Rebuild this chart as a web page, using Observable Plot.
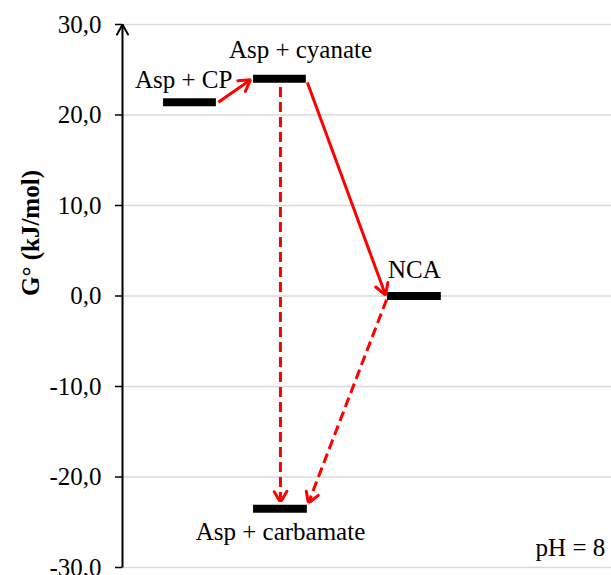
<!DOCTYPE html>
<html>
<head>
<meta charset="utf-8">
<script src="https://cdn.jsdelivr.net/npm/d3@7"></script>
<script src="https://cdn.jsdelivr.net/npm/@observablehq/plot@0.6"></script>
<style>
  html, body { margin: 0; padding: 0; background: #fff; }
  #chart svg { display: block; }
  #chart svg, #chart svg text { font-family: "Times New Roman", Times, "Liberation Serif", "DejaVu Serif", serif !important; }
</style>
</head>
<body>
<div id="chart"></div>
<script>
// Energy levels (G°, kJ/mol) with horizontal extent in arbitrary x units
const levelNames = ["Asp + CP", "Asp + cyanate", "NCA", "Asp + carbamate"];
const levelG     = [21.4, 24.0, 0.0, -23.5];
const levelX1    = [8.4, 26.8, 54.2, 26.8];
const levelX2    = [19.2, 37.6, 65.2, 37.8];

// Level labels
const labelText = ["Asp + CP", "Asp + cyanate", "NCA", "Asp + carbamate", "pH = 8"];
const labelX    = [12.5, 36.4, 59.7, 32.3, 91.6];
const labelY    = [23.9, 27.2, 2.9, -26.1, -27.8];

// Transitions (arrows)
const arrowX1   = [19.6, 37.8, 32.3, 54.0];
const arrowY1   = [21.4, 23.6, 23.1, -0.4];
const arrowX2   = [26.2, 53.8, 32.3, 38.0];
const arrowY2   = [23.9, 0.1, -22.8, -22.9];
const arrowDash = [false, false, true, true];

// Axis ticks
const yTicks = [-30, -20, -10, 0, 10, 20, 30];
const yTitle = "G° (kJ/mol)";

const levels = levelNames.map((n, i) => ({name: n, g: levelG[i], x1: levelX1[i], x2: levelX2[i]}));
const labels = labelText.map((t, i) => ({t, x: labelX[i], y: labelY[i]}));
const arrows = arrowX1.map((_, i) => ({x1: arrowX1[i], y1: arrowY1[i], x2: arrowX2[i], y2: arrowY2[i], dash: arrowDash[i]}));

const fmt = d => d.toFixed(1).replace(".", ",");
const FF = "Times New Roman, Liberation Serif, serif";

// open V arrowhead marker (solid even on dashed lines)
const head = (w, len, half) => (color) =>
  d3.create("svg:marker")
    .attr("viewBox", "-20 -20 40 40")
    .attr("markerWidth", 40)
    .attr("markerHeight", 40)
    .attr("markerUnits", "userSpaceOnUse")
    .attr("orient", "auto")
    .attr("overflow", "visible")
    .attr("fill", "none")
    .attr("stroke", color)
    .attr("stroke-width", w)
    .attr("stroke-linecap", "round")
    .attr("stroke-linejoin", "miter")
    .call(m => m.append("path").attr("d", `M${-len},${-half}L0,0L${-len},${half}`))
    .node();

const redHead = head(3, 11, 6.5);
const axisHead = head(2, 10, 5.5);

const chart = Plot.plot({
  width: 611,
  height: 575,
  marginLeft: 122,
  marginRight: 0,
  marginTop: 24,
  marginBottom: 8,
  style: {fontFamily: FF, fontSize: "25px", color: "#000", background: "#fff"},
  x: {domain: [0, 100], axis: null},
  y: {domain: [-30, 30], ticks: yTicks, label: null},
  marks: [
    Plot.gridY(yTicks, {x1: 0, x2: 100, stroke: "#d9d9d9", strokeOpacity: 1, strokeWidth: 1.5}),
    Plot.axisY({ticks: yTicks, tickFormat: fmt, tickSize: 7, tickPadding: 14, fontSize: 25, fontFamily: FF, stroke: "#000", strokeWidth: 1.5, label: null}),
    Plot.link([0], {x1: 0, x2: 0, y1: -30, y2: 30, stroke: "#000", strokeWidth: 2, markerEnd: axisHead}),
    Plot.ruleY(levels, {y: "g", x1: "x1", x2: "x2", stroke: "#000", strokeWidth: 8}),
    Plot.link(arrows.filter(d => !d.dash), {x1: "x1", y1: "y1", x2: "x2", y2: "y2", stroke: "#ff0000", strokeWidth: 3, markerEnd: redHead}),
    Plot.link(arrows.filter(d => d.dash), {x1: "x1", y1: "y1", x2: "x2", y2: "y2", stroke: "#ff0000", strokeWidth: 3, strokeDasharray: "10,5", markerEnd: redHead}),
    Plot.text(labels, {x: "x", y: "y", text: "t", fontSize: 25, fontFamily: FF, fill: "#000"}),
    Plot.text([yTitle], {frameAnchor: "left", dx: -92, rotate: -90, text: d => d, fontSize: 25, fontFamily: FF, fontWeight: "bold", fill: "#000"})
  ]
});
document.getElementById("chart").appendChild(chart);
</script>
</body>
</html>
